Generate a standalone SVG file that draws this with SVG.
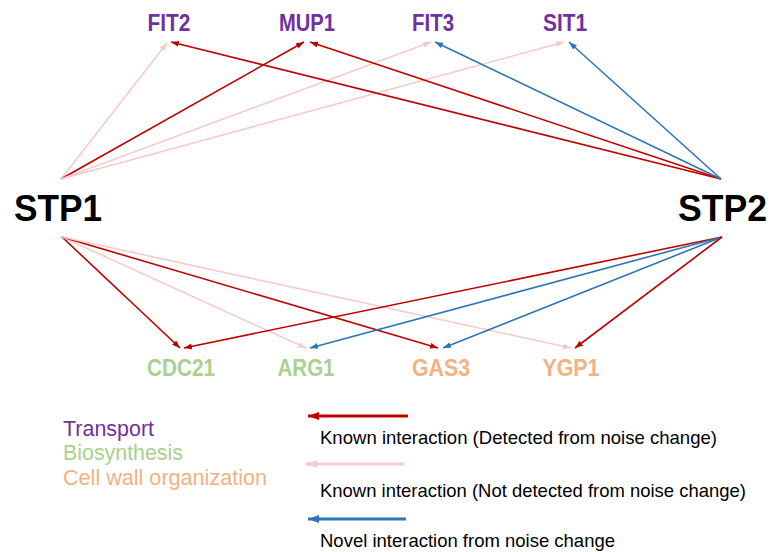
<svg xmlns="http://www.w3.org/2000/svg" width="771" height="552" viewBox="0 0 771 552">
<style>
.bg{fill:#ffffff}
.tf{font-family:"Liberation Sans",Arial,Helvetica,sans-serif;font-weight:bold;font-size:37px;fill:#000000}
.gene{font-family:"Liberation Sans",Arial,Helvetica,sans-serif;font-weight:bold;font-size:23px;text-anchor:middle}
.tr{fill:#7030a0}
.bio{fill:#a9d18e}
.cw{fill:#f4b183}
.leg{font-family:"Liberation Sans",Arial,Helvetica,sans-serif;font-size:22px}
.legr{font-family:"Liberation Sans",Arial,Helvetica,sans-serif;font-size:19px;fill:#000000}
.e{fill:none;stroke-width:1.6}
.red{stroke:#c00000}
.pink{stroke:#f4cccc}
.blue{stroke:#2e75b6}
.r{marker-end:url(#ar)}
.p{marker-end:url(#ap)}
.b{marker-end:url(#ab)}
.lg{fill:none;stroke-width:3}
</style>
<defs>
<marker id="ar" markerUnits="userSpaceOnUse" markerWidth="9" markerHeight="7" refX="8" refY="3" orient="auto"><path d="M0,0 L8,3 L0,6 z" fill="#c00000"/></marker>
<marker id="ap" markerUnits="userSpaceOnUse" markerWidth="9" markerHeight="7" refX="8" refY="3" orient="auto"><path d="M0,0 L8,3 L0,6 z" fill="#f4cccc"/></marker>
<marker id="ab" markerUnits="userSpaceOnUse" markerWidth="9" markerHeight="7" refX="8" refY="3" orient="auto"><path d="M0,0 L8,3 L0,6 z" fill="#2e75b6"/></marker>
<marker id="lr" markerUnits="userSpaceOnUse" markerWidth="12" markerHeight="9" refX="11" refY="4" orient="auto"><path d="M0,0 L11,4 L0,8 z" fill="#c00000"/></marker>
<marker id="lp" markerUnits="userSpaceOnUse" markerWidth="12" markerHeight="9" refX="11" refY="4" orient="auto"><path d="M0,0 L11,4 L0,8 z" fill="#f4cccc"/></marker>
<marker id="lb" markerUnits="userSpaceOnUse" markerWidth="12" markerHeight="9" refX="11" refY="4" orient="auto"><path d="M0,0 L11,4 L0,8 z" fill="#2e75b6"/></marker>
</defs>
<rect class="bg" x="0" y="0" width="771" height="552"/>

<g id="connectors">
<line class="e pink p" x1="61" y1="179" x2="167" y2="43"/>
<line class="e red r" x1="61" y1="179" x2="304" y2="42"/>
<line class="e pink p" x1="61" y1="179" x2="431" y2="42"/>
<line class="e pink p" x1="61" y1="179" x2="564" y2="42"/>
<line class="e red r" x1="721" y1="179" x2="171" y2="42"/>
<line class="e red r" x1="721" y1="179" x2="310" y2="42"/>
<line class="e blue b" x1="721" y1="179" x2="435" y2="42"/>
<line class="e blue b" x1="721" y1="179" x2="569" y2="42"/>

<line class="e red r" x1="62" y1="237" x2="180" y2="348"/>
<line class="e pink p" x1="62" y1="237" x2="306" y2="348"/>
<line class="e red r" x1="62" y1="237" x2="438" y2="348"/>
<line class="e pink p" x1="62" y1="237" x2="571" y2="348"/>
<line class="e red r" x1="722" y1="237" x2="184" y2="348"/>
<line class="e blue b" x1="722" y1="237" x2="310" y2="348"/>
<line class="e blue b" x1="722" y1="237" x2="443" y2="348"/>
<line class="e red r" x1="722" y1="237" x2="575" y2="348"/>
</g>

<g id="STP1"><text class="tf" x="14" y="221" textLength="88" lengthAdjust="spacingAndGlyphs">STP1</text></g>
<g id="STP2"><text class="tf" x="678" y="221" textLength="89" lengthAdjust="spacingAndGlyphs">STP2</text></g>

<g id="FIT2"><text class="gene tr" x="169" y="31" textLength="43" lengthAdjust="spacingAndGlyphs">FIT2</text></g>
<g id="MUP1"><text class="gene tr" x="307" y="31" textLength="56" lengthAdjust="spacingAndGlyphs">MUP1</text></g>
<g id="FIT3"><text class="gene tr" x="433" y="31" textLength="42" lengthAdjust="spacingAndGlyphs">FIT3</text></g>
<g id="SIT1"><text class="gene tr" x="565" y="31" textLength="44" lengthAdjust="spacingAndGlyphs">SIT1</text></g>

<g id="CDC21"><text class="gene bio" x="181" y="376" textLength="68" lengthAdjust="spacingAndGlyphs">CDC21</text></g>
<g id="ARG1"><text class="gene bio" x="306" y="376" textLength="57" lengthAdjust="spacingAndGlyphs">ARG1</text></g>
<g id="GAS3"><text class="gene cw" x="441" y="376" textLength="58" lengthAdjust="spacingAndGlyphs">GAS3</text></g>
<g id="YGP1"><text class="gene cw" x="571" y="376" textLength="57" lengthAdjust="spacingAndGlyphs">YGP1</text></g>

<g id="legend-categories">
<text class="leg tr" x="63" y="436" textLength="91" lengthAdjust="spacingAndGlyphs">Transport</text>
<text class="leg bio" x="63" y="460" textLength="120" lengthAdjust="spacingAndGlyphs">Biosynthesis</text>
<text class="leg cw" x="63" y="485" textLength="204" lengthAdjust="spacingAndGlyphs">Cell wall organization</text>
</g>

<g id="legend-edges">
<line class="lg red" x1="408" y1="416" x2="308" y2="416" marker-end="url(#lr)"/>
<text class="legr" x="320" y="444" textLength="397" lengthAdjust="spacingAndGlyphs">Known interaction (Detected from noise change)</text>
<line class="lg pink" x1="404" y1="464" x2="306" y2="464" marker-end="url(#lp)"/>
<text class="legr" x="320" y="497" textLength="426" lengthAdjust="spacingAndGlyphs">Known interaction (Not detected from noise change)</text>
<line class="lg blue" x1="406" y1="519" x2="308" y2="519" marker-end="url(#lb)"/>
<text class="legr" x="320" y="547" textLength="295" lengthAdjust="spacingAndGlyphs">Novel interaction from noise change</text>
</g>
</svg>
